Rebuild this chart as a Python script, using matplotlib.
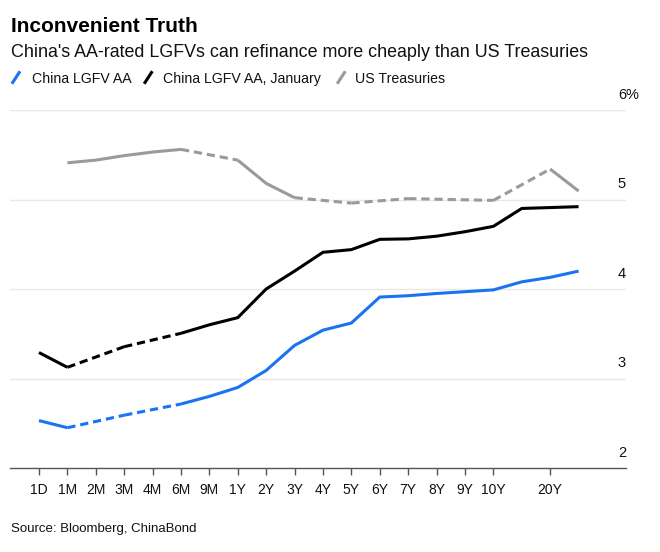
import numpy as np
import matplotlib
matplotlib.use("Agg")
import matplotlib.pyplot as plt
from matplotlib.lines import Line2D

plt.rcParams['font.family'] = ['Liberation Sans', 'DejaVu Sans']

# tenors (15Y and 30Y have no label on the axis)
tenors = ['1D', '1M', '2M', '3M', '4M', '6M', '9M', '1Y', '2Y', '3Y', '4Y', '5Y',
          '6Y', '7Y', '8Y', '9Y', '10Y', '15Y', '20Y', '30Y']
tick_labels = ['1D', '1M', '2M', '3M', '4M', '6M', '9M', '1Y', '2Y', '3Y', '4Y', '5Y',
               '6Y', '7Y', '8Y', '9Y', '10Y', '', '20Y', '']

# None = no quote for that tenor (bridged by dashed line)
lgfv_aa = [2.53, 2.45, None, 2.59, None, 2.715, 2.80, 2.90, 3.09, 3.37, 3.54, 3.62,
           3.91, 3.925, 3.95, 3.97, 3.99, 4.08, 4.13, 4.20]
lgfv_aa_jan = [3.29, 3.125, None, 3.355, None, 3.505, 3.60, 3.68, 4.00, 4.20, 4.41, 4.44,
               4.555, 4.56, 4.59, 4.64, 4.70, 4.90, 4.91, 4.92]
us_treasuries = [None, 5.41, 5.44, 5.49, 5.53, 5.56, None, 5.44, 5.18, 5.02, None, 4.96,
                 None, 5.01, None, None, 4.99, None, 5.34, 5.095]

yticks = [2, 3, 4, 5, 6]

BLUE = '#1a73f0'
BLACK = '#000000'
GRAY = '#9a9a9a'

fig = plt.figure(figsize=(6.6, 5.52), dpi=100)
ax = fig.add_axes([10 / 660, 1 - 468 / 552, 616 / 660, 358 / 552])


def draw_series(vals, color):
    x = np.arange(len(vals))
    y = np.array([np.nan if v is None else v for v in vals], dtype=float)
    # solid where consecutive tenors both have data
    ax.plot(x, y, color=color, lw=2.2, solid_capstyle='butt', solid_joinstyle='miter', zorder=3)
    # dashed bridges across missing tenors
    ok = np.where(~np.isnan(y))[0]
    for a, b in zip(ok[:-1], ok[1:]):
        if b - a > 1:
            ax.plot([x[a], x[b]], [y[a], y[b]], color=color, lw=2.2,
                    linestyle=(0, (2.7, 1.6)), dash_capstyle='butt', zorder=3)


draw_series(us_treasuries, GRAY)
draw_series(lgfv_aa_jan, BLACK)
draw_series(lgfv_aa, BLUE)

ax.set_xlim(-1.02, 20.67)
ax.set_ylim(2, 6)

for s in ['top', 'right', 'left']:
    ax.spines[s].set_visible(False)
ax.spines['bottom'].set_color('#555555')
ax.spines['bottom'].set_linewidth(1.0)

ticks = [i for i, t in enumerate(tick_labels) if t]
ax.set_xticks(ticks)
ax.set_xticklabels([tick_labels[i] for i in ticks], fontsize=10, color='#111111')
ax.tick_params(axis='x', length=5, width=1, color='#555555', pad=6)
ax.set_yticks([])

for v in yticks[1:]:
    ax.axhline(v, color='#e8e8e8', lw=1, zorder=1)
for v in yticks:
    ax.annotate(str(v), xy=(1, v), xycoords=('axes fraction', 'data'),
                xytext=(0, 6), textcoords='offset points',
                ha='right', va='bottom', fontsize=10.5, color='#111111')
# percent sign hangs past the right edge
ax.annotate('%', xy=(1, yticks[-1]), xycoords=('axes fraction', 'data'),
            xytext=(0, 6), textcoords='offset points',
            ha='left', va='bottom', fontsize=10.5, color='#111111')

# titles
fig.text(11 / 660, 1 - 32 / 552, 'Inconvenient Truth', fontsize=15, fontweight='bold',
         ha='left', va='baseline')
fig.text(11 / 660, 1 - 57 / 552,
         "China's AA-rated LGFVs can refinance more cheaply than US Treasuries",
         fontsize=12.85, ha='left', va='baseline', color='#111111')

# legend with slanted marks
legend_items = [('China LGFV AA', BLUE, 12.7, 31.7),
                ('China LGFV AA, January', BLACK, 145, 163.3),
                ('US Treasuries', GRAY, 338, 355)]
for name, col, mx, tx in legend_items:
    fig.add_artist(Line2D([mx / 660, (mx + 6.5) / 660], [1 - 82.5 / 552, 1 - 72.5 / 552],
                          transform=fig.transFigure, color=col, lw=2.2))
    fig.text(tx / 660, 1 - 82.7 / 552, name, fontsize=10.2, ha='left', va='baseline',
             color='#111111')

fig.text(11 / 660, 1 - 532 / 552, 'Source: Bloomberg, ChinaBond', fontsize=9.5,
         ha='left', va='baseline', color='#111111')

fig.savefig('out.png', dpi=100, facecolor='white')
